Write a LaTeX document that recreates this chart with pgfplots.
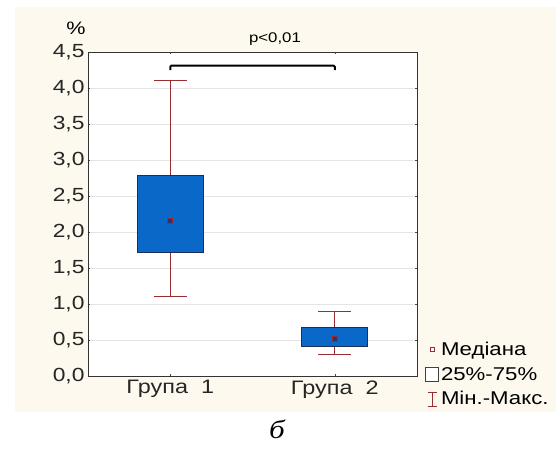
\documentclass[border=0pt]{standalone}
\usepackage{fontspec}
\setmainfont{Liberation Sans}
\newfontfamily\serif{Liberation Serif}
\usepackage{graphicx}
\usepackage{pgfplots}
\usepgfplotslibrary{statistics}
\pgfplotsset{compat=1.18}

\definecolor{bgbeige}{RGB}{253,249,238}
\definecolor{boxfill}{RGB}{10,104,200}
\definecolor{boxedge}{RGB}{30,45,85}
\definecolor{whisk}{RGB}{155,45,50}
\definecolor{medfill}{RGB}{35,55,120}

\newcommand\sx[1]{\scalebox{1.2}[1]{#1}}
\newcommand\fs{\fontsize{19}{21}\selectfont}

\begin{document}
\begin{tikzpicture}[x=1pt,y=1pt]
\path[use as bounding box, fill=white] (0,0) rectangle (556,453);
\fill[bgbeige] (15,41) rectangle (556,446);

\begin{axis}[
  at={(88pt,77pt)}, anchor=south west,
  scale only axis, width=329pt, height=324pt,
  xmin=0.5, xmax=2.5, ymin=0, ymax=4.5,
  axis background/.style={fill=white},
  axis line style={black!80, line width=0.7pt},
  xtick={1,2},
  xticklabels={\sx{Група\ \ 1},\sx{Група\ \ 2}},
  xticklabel style={font=\fontsize{19.5}{21}\selectfont, yshift=-1pt},
  ytick={0,0.5,1,1.5,2,2.5,3,3.5,4,4.5},
  yticklabels={\sx{0,0},\sx{0,5},\sx{1,0},\sx{1,5},\sx{2,0},\sx{2,5},\sx{3,0},\sx{3,5},\sx{4,0},\sx{4,5}},
  yticklabel style={font=\fs},
  tick label style={text=black!85},
  major tick length=2pt,
  tick style={black!70, line width=0.5pt},
  ymajorgrids=true,
  grid style={black!10, line width=0.6pt},
  legend style={at={(axis description cs:1,0)}, anchor=north west,
    xshift=7pt, yshift=37pt, draw=none, fill=none,
    font=\fontsize{18.5}{20}\selectfont,
    row sep=6pt, inner sep=1pt},
  legend cell align=left,
  boxplot/draw direction=y,
  boxplot/every box/.style={draw=boxedge, fill=boxfill, line width=1pt},
  boxplot/every whisker/.style={draw=whisk, line width=0.8pt},
  boxplot/draw/median/.code={
    \node[rectangle, draw=whisk, fill=medfill, inner sep=0pt, minimum size=5pt, line width=0.7pt]
      at (boxplot box cs:\pgfplotsboxplotvalue{median},0.5) {};
  },
]
\addplot[forget plot, boxplot prepared={draw position=1,
  lower whisker=1.1, lower quartile=1.71, median=2.15,
  upper quartile=2.79, upper whisker=4.1,
  box extend=0.4, whisker extend=0.2}] coordinates {};
\addplot[forget plot, boxplot prepared={draw position=2,
  lower whisker=0.3, lower quartile=0.41, median=0.51,
  upper quartile=0.68, upper whisker=0.9,
  box extend=0.4, whisker extend=0.2}] coordinates {};

\addlegendimage{legend image code/.code={
  \draw[draw=whisk, fill=white, line width=0.6pt] (4pt,-2pt) rectangle (8pt,2pt);}}
\addlegendentry{\sx{Медіана}}
\addlegendimage{legend image code/.code={
  \draw[draw=black!75, fill=white, line width=0.8pt] (-1pt,-7pt) rectangle (12pt,7pt);}}
\addlegendentry{\sx{25\%-75\%}}
\addlegendimage{legend image code/.code={
  \draw[draw=whisk, line width=0.8pt] (5.5pt,-7pt) -- (5.5pt,7pt)
     (1pt,7pt) -- (10pt,7pt) (1pt,-7pt) -- (10pt,-7pt);}}
\addlegendentry{\sx{Мін.-Макс.}}

\draw[line width=2pt, rounded corners=1pt] (axis cs:1,4.25) |- (axis cs:2,4.31) -- (axis cs:2,4.25);
\end{axis}

\node[font=\fontsize{18}{20}\selectfont] at (76,425) {\sx{\%}};
\node[font=\fontsize{14}{16}\selectfont] at (275,414) {\sx{p<0,01}};
\node[font=\serif\itshape\fontsize{26}{28}\selectfont] at (277,24) {\sx{б}};
\end{tikzpicture}
\end{document}
